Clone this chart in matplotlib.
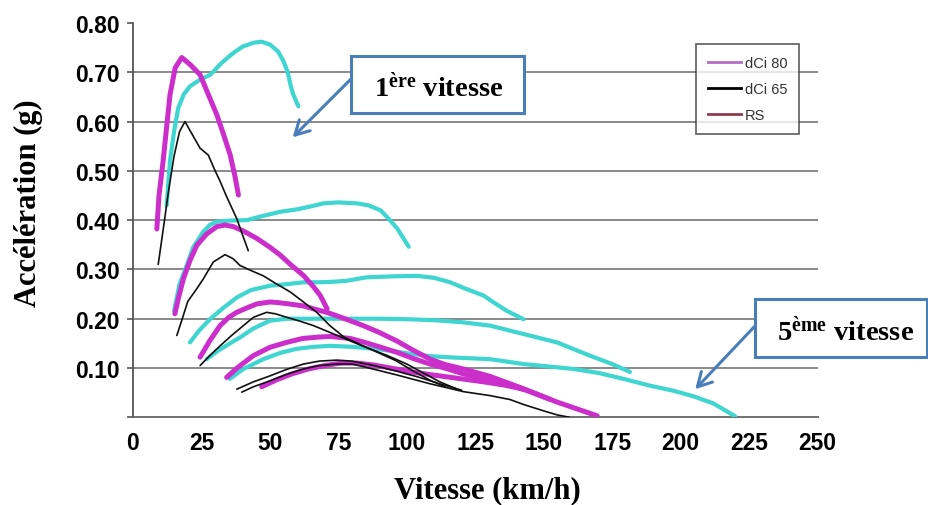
import matplotlib
matplotlib.use("Agg")
import matplotlib.pyplot as plt
from matplotlib.lines import Line2D
from matplotlib.patches import Rectangle

# ---------------- data ----------------
speed_ticks = [0, 25, 50, 75, 100, 125, 150, 175, 200, 225, 250]
speed_tick_labels = ["0", "25", "50", "75", "100", "125", "150", "175", "200", "225", "250"]
accel_ticks = [0.0, 0.1, 0.2, 0.3, 0.4, 0.5, 0.6, 0.7, 0.8]
accel_tick_labels = ["", "0.10", "0.20", "0.30", "0.40", "0.50", "0.60", "0.70", "0.80"]

legend_labels = ["dCi 80", "dCi 65", "RS"]

# dCi 80 (magenta)
dci80_g1_v = [8.7, 9.5, 11.0, 12.3, 13.5, 15.4, 17.8, 21.0, 24.5, 27.5, 30.6, 33.0, 35.5, 37.2, 38.5]
dci80_g1_a = [0.382, 0.45, 0.52, 0.59, 0.654, 0.709, 0.730, 0.715, 0.695, 0.655, 0.614, 0.575, 0.532, 0.49, 0.451]
dci80_g2_v = [15.3, 16.5, 18.4, 20.8, 23.3, 26.9, 30.6, 33.6, 36.6, 40.3, 45.2, 50.0, 53.8, 57.5, 62.2, 65.9, 68.4, 70.9]
dci80_g2_a = [0.210, 0.24, 0.281, 0.318, 0.349, 0.372, 0.387, 0.390, 0.387, 0.378, 0.363, 0.345, 0.329, 0.310, 0.288, 0.265, 0.247, 0.220]
dci80_g3_v = [24.5, 28.0, 31.8, 35.0, 37.9, 41.6, 45.2, 50.0, 52.5, 57.0, 62.2, 66.0, 70.7, 74.4, 79.3, 84.1, 90.0, 96.3, 102.0, 108.5, 114.0, 120.7, 130.4, 142.6, 154.8, 169.5]
dci80_g3_a = [0.122, 0.155, 0.186, 0.203, 0.213, 0.222, 0.230, 0.234, 0.233, 0.230, 0.226, 0.220, 0.213, 0.206, 0.196, 0.186, 0.172, 0.155, 0.137, 0.118, 0.107, 0.098, 0.083, 0.058, 0.031, 0.003]
dci80_g4_v = [34.2, 38.0, 43.9, 50.0, 56.1, 62.0, 68.3, 72.0, 79.3, 84.0, 90.0, 96.3, 102.0, 108.5, 115.0, 120.7, 130.0, 137.7, 145.0, 152.0]
dci80_g4_a = [0.081, 0.100, 0.125, 0.142, 0.152, 0.160, 0.163, 0.164, 0.160, 0.153, 0.143, 0.132, 0.120, 0.108, 0.098, 0.088, 0.076, 0.066, 0.052, 0.037]
dci80_g5_v = [47.0, 52.0, 58.0, 64.0, 70.0, 76.0, 82.0, 88.0, 96.0, 104.0, 112.0, 120.0, 128.0, 136.0, 142.6]
dci80_g5_a = [0.062, 0.075, 0.088, 0.098, 0.105, 0.110, 0.110, 0.106, 0.098, 0.090, 0.084, 0.078, 0.072, 0.065, 0.057]

# dCi 65 (black)
dci65_g1_v = [9.2, 11.0, 13.0, 15.0, 17.0, 19.0, 21.0, 24.5, 27.5, 30.0, 31.8, 34.0, 37.9, 40.0, 42.1]
dci65_g1_a = [0.310, 0.38, 0.46, 0.53, 0.58, 0.600, 0.580, 0.546, 0.532, 0.50, 0.479, 0.45, 0.403, 0.37, 0.338]
dci65_g2_v = [16.0, 18.0, 20.0, 23.3, 25.7, 29.3, 33.6, 36.5, 39.1, 43.0, 47.6, 52.0, 57.5, 62.0, 67.1, 71.9, 77.0, 84.0, 90.0, 96.0, 102.0, 108.5, 114.0]
dci65_g2_a = [0.166, 0.20, 0.235, 0.261, 0.281, 0.315, 0.330, 0.322, 0.308, 0.298, 0.287, 0.272, 0.254, 0.235, 0.213, 0.186, 0.163, 0.145, 0.130, 0.115, 0.095, 0.075, 0.062]
dci65_g3_v = [24.5, 28.0, 31.8, 36.0, 40.3, 44.0, 48.8, 52.0, 56.1, 61.0, 65.9, 72.0, 79.3, 86.0, 93.0, 100.0, 106.0, 112.0, 118.0]
dci65_g3_a = [0.105, 0.125, 0.145, 0.166, 0.186, 0.203, 0.213, 0.210, 0.203, 0.195, 0.186, 0.172, 0.155, 0.140, 0.125, 0.108, 0.090, 0.072, 0.058]
dci65_g4_v = [37.9, 44.0, 50.0, 56.0, 62.2, 68.0, 74.4, 80.0, 88.0, 96.0, 104.0, 112.0, 120.0]
dci65_g4_a = [0.057, 0.072, 0.084, 0.097, 0.108, 0.114, 0.116, 0.114, 0.105, 0.094, 0.082, 0.068, 0.055]
dci65_g5_v = [39.7, 44.0, 50.0, 56.0, 62.2, 68.0, 74.4, 80.0, 84.0, 96.3, 108.5, 120.7, 130.4, 137.7, 142.6, 150.0, 154.8, 159.5]
dci65_g5_a = [0.051, 0.062, 0.074, 0.087, 0.098, 0.105, 0.108, 0.108, 0.103, 0.086, 0.068, 0.052, 0.044, 0.036, 0.026, 0.013, 0.005, 0.0]

# RS (turquoise)
rs_g1_v = [12.3, 13.5, 15.0, 16.5, 18.5, 20.9, 24.5, 28.2, 30.0, 31.8, 34.0, 36.6, 40.0, 44.0, 47.0, 50.1, 53.0, 55.0, 56.5, 57.5, 58.5, 60.4]
rs_g1_a = [0.43, 0.52, 0.58, 0.627, 0.655, 0.672, 0.685, 0.695, 0.705, 0.716, 0.727, 0.739, 0.752, 0.760, 0.762, 0.756, 0.742, 0.722, 0.700, 0.675, 0.655, 0.631]
rs_g2_v = [15.0, 15.4, 17.0, 19.6, 22.0, 25.6, 28.0, 30.6, 35.0, 41.6, 47.0, 53.8, 60.0, 65.0, 69.5, 75.0, 81.9, 86.0, 90.4, 93.0, 96.5, 100.7]
rs_g2_a = [0.215, 0.227, 0.27, 0.308, 0.345, 0.376, 0.39, 0.397, 0.399, 0.400, 0.408, 0.417, 0.422, 0.428, 0.434, 0.436, 0.434, 0.430, 0.420, 0.405, 0.383, 0.346]
rs_g3_v = [20.8, 24.0, 28.1, 33.0, 37.9, 43.0, 50.0, 56.0, 62.2, 68.0, 73.2, 78.0, 85.3, 95.0, 103.6, 110.0, 115.8, 121.0, 128.0, 132.0, 136.5, 142.6]
rs_g3_a = [0.152, 0.175, 0.199, 0.222, 0.243, 0.258, 0.267, 0.270, 0.274, 0.274, 0.275, 0.277, 0.284, 0.286, 0.287, 0.283, 0.274, 0.262, 0.247, 0.232, 0.216, 0.199]
rs_g4_v = [26.9, 31.0, 35.4, 39.1, 43.9, 50.0, 56.0, 68.3, 80.0, 90.0, 100.0, 110.0, 120.0, 130.4, 142.6, 154.8, 166.9, 175.0, 181.5]
rs_g4_a = [0.118, 0.135, 0.150, 0.162, 0.180, 0.196, 0.200, 0.200, 0.200, 0.200, 0.199, 0.197, 0.193, 0.186, 0.169, 0.152, 0.125, 0.108, 0.092]
rs_g5_v = [35.4, 40.0, 47.6, 54.0, 59.8, 66.0, 72.0, 80.0, 90.0, 100.0, 108.5, 118.0, 130.4, 142.6, 152.0, 161.0, 170.0, 179.1, 188.9, 197.3, 205.0, 212.0, 219.9]
rs_g5_a = [0.078, 0.097, 0.118, 0.131, 0.139, 0.143, 0.145, 0.143, 0.138, 0.130, 0.124, 0.121, 0.118, 0.108, 0.103, 0.098, 0.090, 0.078, 0.064, 0.054, 0.042, 0.028, 0.002]

# ---------------- styling ----------------
W, H = 929, 506
MAGENTA = "#CC2ECC"
CYAN = "#3FD5D0"
BLACK = "#111111"
BLUE = "#4A7EBB"
GRID = "#808080"

plt.rcParams["mathtext.fontset"] = "custom"
plt.rcParams["mathtext.rm"] = "Liberation Serif:bold"
plt.rcParams["mathtext.bf"] = "Liberation Serif:bold"
plt.rcParams["mathtext.it"] = "Liberation Serif:bold"

fig = plt.figure(figsize=(W / 100, H / 100), dpi=100)
fig.patch.set_facecolor("white")

def fx(px):
    return px / W

def fy(py):
    return 1 - py / H

ax_l, ax_r, ax_t, ax_b = 133, 817.6, 24, 418.3
ax = fig.add_axes([fx(ax_l), fy(ax_b), (ax_r - ax_l) / W, (ax_b - ax_t) / H])
ax.set_xlim(0, 250)
ax.set_ylim(0, 0.8)

for v, a in [(rs_g1_v, rs_g1_a), (rs_g2_v, rs_g2_a), (rs_g3_v, rs_g3_a),
             (rs_g4_v, rs_g4_a), (rs_g5_v, rs_g5_a)]:
    ax.plot(v, a, color=CYAN, lw=3.0, solid_capstyle="round", solid_joinstyle="round", zorder=3)
for v, a in [(dci80_g1_v, dci80_g1_a), (dci80_g2_v, dci80_g2_a), (dci80_g3_v, dci80_g3_a),
             (dci80_g4_v, dci80_g4_a), (dci80_g5_v, dci80_g5_a)]:
    ax.plot(v, a, color=MAGENTA, lw=3.6, solid_capstyle="round", solid_joinstyle="round", zorder=4)
for v, a in [(dci65_g1_v, dci65_g1_a), (dci65_g2_v, dci65_g2_a), (dci65_g3_v, dci65_g3_a),
             (dci65_g4_v, dci65_g4_a), (dci65_g5_v, dci65_g5_a)]:
    ax.plot(v, a, color=BLACK, lw=1.2, solid_capstyle="round", solid_joinstyle="round", zorder=5)

# axes styling
for s in ["top", "right"]:
    ax.spines[s].set_visible(False)
ax.spines["left"].set_color("#555555")
ax.spines["left"].set_linewidth(1.3)
ax.spines["bottom"].set_color("#666666")
ax.spines["bottom"].set_linewidth(1.3)

ax.set_yticks(accel_ticks)
ax.set_yticklabels(accel_tick_labels)
ax.set_xticks(speed_ticks)
ax.set_xticklabels(speed_tick_labels)
ax.set_xticks(speed_ticks[::2], minor=True)

for lab in ax.get_xticklabels() + ax.get_yticklabels():
    lab.set_fontfamily("Liberation Sans")
    lab.set_fontweight("bold")
    lab.set_fontsize(16.5)
ax.tick_params(axis="y", which="major", direction="out", length=4, width=1.2,
               color="#555555", pad=5.5)
ax.tick_params(axis="x", which="major", length=0, pad=10)
ax.tick_params(axis="x", which="minor", direction="out", length=4, width=1.2, color="#666666")

ax.yaxis.grid(True, color=GRID, lw=1.3, zorder=1)
ax.set_axisbelow(True)
for val, gl in zip(accel_ticks, ax.get_ygridlines()):
    if val in (0.0, 0.8):
        gl.set_visible(False)

# legend
handles = [Line2D([], [], color="#B56CC3", lw=2.0),
           Line2D([], [], color="black", lw=2.0),
           Line2D([], [], color="#8E3B4E", lw=2.0)]
leg = ax.legend(handles, legend_labels, loc="upper left",
                bbox_to_anchor=((696 - ax_l) / (ax_r - ax_l), (ax_b - 45) / (ax_b - ax_t),
                                (799 - 696) / (ax_r - ax_l), 0.0),
                mode="expand", borderpad=0.8, handlelength=2.3, handletextpad=0.25,
                labelspacing=0.85, fancybox=False, frameon=True,
                prop=dict(family="Liberation Sans", size=10.5), borderaxespad=0)
leg.get_frame().set_edgecolor("#333333")
leg.get_frame().set_linewidth(1.2)
for t in leg.get_texts():
    t.set_color("#333333")
leg.set_zorder(10)

# axis labels
fig.text(fx(487), fy(498), "Vitesse (km/h)", ha="center", va="baseline",
         family="Liberation Serif", weight="bold", fontsize=22)
fig.text(fx(28), fy(203), "Accélération (g)", ha="center", va="center", rotation=90,
         family="Liberation Serif", weight="bold", fontsize=22)

# annotation boxes
for (x0, y0, x1, y1) in [(350.7, 57.3, 524, 114), (755, 300, 927, 358)]:
    fig.add_artist(Rectangle((fx(x0), fy(y1)), (x1 - x0) / W, (y1 - y0) / H,
                             transform=fig.transFigure, facecolor="white",
                             edgecolor=BLUE, lw=2.2, zorder=5))

fig.text(fx(438.3), fy(96), r"1$^{\mathrm{ère}}$ vitesse", ha="center", va="baseline",
         family="Liberation Serif", weight="bold", fontsize=20.5, zorder=6)
fig.text(fx(845.8), fy(340), r"5$^{\mathrm{ème}}$ vitesse", ha="center", va="baseline",
         family="Liberation Serif", weight="bold", fontsize=20.5, zorder=6)

arrow_style = dict(arrowstyle="->,head_length=1.0,head_width=0.55", color=BLUE, lw=2.2,
                   shrinkA=0, shrinkB=0)
ax.annotate("", xy=(58.3, 0.568), xycoords="data",
            xytext=(fx(351), fy(80)), textcoords="figure fraction",
            arrowprops=arrow_style, annotation_clip=False)
ax.annotate("", xy=(205.3, 0.057), xycoords="data",
            xytext=(fx(755), fy(327)), textcoords="figure fraction",
            arrowprops=arrow_style, annotation_clip=False)

fig.savefig("out.png", dpi=100, facecolor="white")
